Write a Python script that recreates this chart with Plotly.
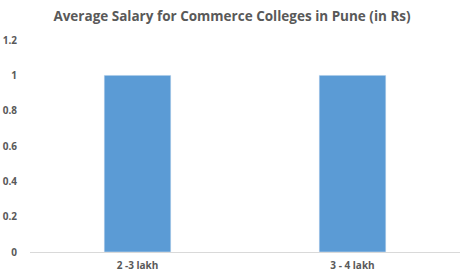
import plotly.graph_objects as go

categories = ["2 -3 lakh", "3 - 4 lakh"]
values = [1, 1]
y_ticks = [0, 0.2, 0.4, 0.6, 0.8, 1, 1.2]

fig = go.Figure(go.Bar(x=categories, y=values, marker_color="#5B9BD5", width=0.31))

fig.update_layout(
    width=464, height=279,
    margin=dict(l=30, r=4, t=40, b=27),
    paper_bgcolor="white", plot_bgcolor="white",
    title=dict(text="<b>Average Salary for Commerce Colleges in Pune (in Rs)</b>",
               x=0.5, xanchor="center", y=0.94, yanchor="middle",
               font=dict(family="Open Sans", size=13.5, color="#595959")),
    font=dict(family="Open Sans", color="#595959", size=10),
    showlegend=False,
)
fig.update_yaxes(range=[0, 1.2], tickvals=y_ticks, ticktext=[f"<b>{v}</b>" for v in y_ticks],
                 showgrid=False, zeroline=False, showline=False, ticklabelstandoff=12,
                 tickfont=dict(size=10, color="#595959"))
fig.update_xaxes(showline=True, linecolor="#D9D9D9", linewidth=1, showgrid=False,
                 tickvals=categories, ticktext=[f"<b>{c}</b>" for c in categories],
                 ticks="", tickfont=dict(size=10, color="#595959"), ticklabelstandoff=4)

fig.write_html("out.html")
